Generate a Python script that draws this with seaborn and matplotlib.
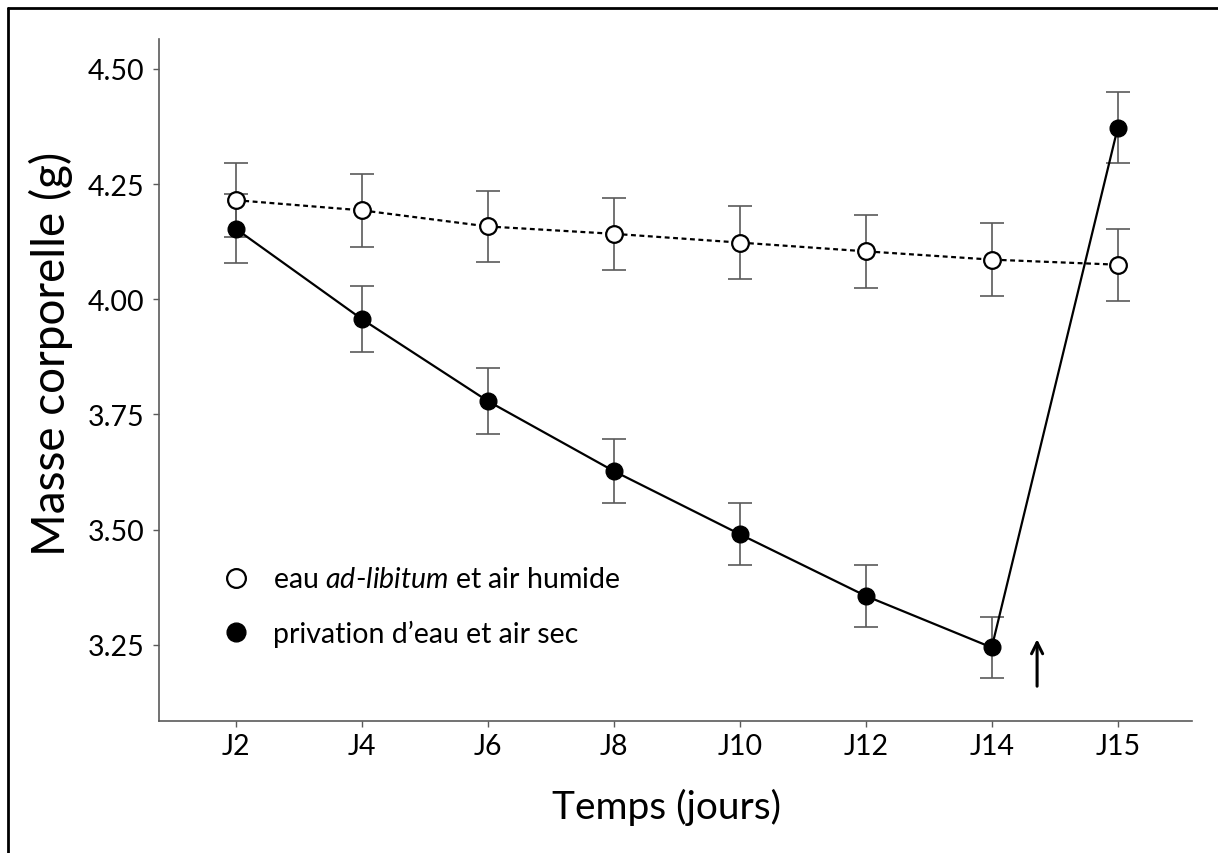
import numpy as np
import pandas as pd
import matplotlib
matplotlib.use("Agg")
import matplotlib.pyplot as plt
import seaborn as sns
from matplotlib.lines import Line2D

# ---- data ----
days = ["J2", "J4", "J6", "J8", "J10", "J12", "J14", "J15"]
humid_mean = [4.215, 4.193, 4.158, 4.142, 4.123, 4.104, 4.086, 4.075]
humid_err = [0.080, 0.079, 0.078, 0.078, 0.079, 0.079, 0.079, 0.078]
dry_mean = [4.153, 3.957, 3.779, 3.627, 3.490, 3.356, 3.244, 4.372]
dry_err = [0.075, 0.072, 0.072, 0.070, 0.067, 0.067, 0.066, 0.077]
y_ticks = [3.25, 3.50, 3.75, 4.00, 4.25, 4.50]
y_ticklabels = ["3.25", "3.50", "3.75", "4.00", "4.25", "4.50"]
label_humid = r"eau $ad$-$libitum$ et air humide"
label_dry = "privation d’eau et air sec"
xlabel = "Temps (jours)"
ylabel = "Masse corporelle (g)"
arrow_x = 6.36
arrow_y = (3.16, 3.262)

sns.set_theme(style="ticks")
plt.rcParams["font.family"] = ["Lato", "DejaVu Sans"]
plt.rcParams["mathtext.fontset"] = "custom"
plt.rcParams["mathtext.it"] = "Lato:italic"
plt.rcParams["mathtext.rm"] = "Lato"
plt.rcParams["text.color"] = "black"
plt.rcParams["axes.labelcolor"] = "black"
plt.rcParams["xtick.labelcolor"] = "black"
plt.rcParams["ytick.labelcolor"] = "black"

fig = plt.figure(figsize=(12.18, 8.54), dpi=100)
ax = fig.add_axes([0.1305, 0.1546, 0.8482, 0.7986])

pos = np.arange(len(days))
df = pd.DataFrame({
    "pos": np.concatenate([pos, pos]),
    "mass": humid_mean + dry_mean,
    "err": humid_err + dry_err,
    "group": ["humid"] * len(days) + ["dry"] * len(days),
})

err_color = "#5a5a5a"
for g in ["humid", "dry"]:
    sub = df[df.group == g]
    ax.errorbar(sub["pos"], sub["mass"], yerr=sub["err"], fmt="none",
                ecolor=err_color, elinewidth=1.2, capsize=8.6, capthick=1.2, zorder=2)

hum = df[df.group == "humid"]
dry = df[df.group == "dry"]
sns.lineplot(data=hum, x="pos", y="mass", ax=ax, color="black", linewidth=1.6,
             linestyle=(0, (2.2, 1.6)), marker="o", markersize=12,
             markerfacecolor="white", markeredgecolor="black", markeredgewidth=1.6,
             errorbar=None, zorder=3)
sns.lineplot(data=dry, x="pos", y="mass", ax=ax, color="black", linewidth=1.6,
             marker="o", markersize=12, markerfacecolor="black",
             markeredgecolor="black", markeredgewidth=1.0, errorbar=None, zorder=4)

ax.set_xlim(-0.61, 7.59)
ax.set_ylim(3.0845, 4.565)
ax.set_xticks(pos)
ax.set_xticklabels(days)
ax.set_yticks(y_ticks)
ax.set_yticklabels(y_ticklabels)
sns.despine(ax=ax)
for s in ["left", "bottom"]:
    ax.spines[s].set_color(err_color)
    ax.spines[s].set_linewidth(1.2)
ax.tick_params(length=4, width=1, color=err_color, labelsize=20.5, labelcolor="black")
ax.tick_params(axis="y", pad=6.5)
ax.tick_params(axis="x", pad=5)

ax.set_xlabel(xlabel, fontsize=28)
ax.set_ylabel(ylabel, fontsize=33)
ax.xaxis.set_label_coords(0.491, -0.098)
ax.yaxis.set_label_coords(-0.083, 0.54)

handles = [
    Line2D([], [], marker="o", ls="none", ms=13.5, mfc="white", mec="black", mew=1.6),
    Line2D([], [], marker="o", ls="none", ms=13.5, mfc="black", mec="black", mew=1.0),
]
ax.legend(handles, [label_humid, label_dry], loc="upper left",
          bbox_to_anchor=(0.0610, 0.2265), frameon=False, fontsize=20.5,
          handlelength=1.0, handletextpad=0.8, labelspacing=0.95,
          borderpad=0, borderaxespad=0)

ax.annotate("", xy=(arrow_x, arrow_y[1]), xytext=(arrow_x, arrow_y[0]),
            arrowprops=dict(arrowstyle="->", lw=2.2, color="black",
                            mutation_scale=20, shrinkA=0, shrinkB=0))

# figure frame (left and top edges)
fig.add_artist(Line2D([8 / 1218, 8 / 1218], [0, 1 - 9 / 854], transform=fig.transFigure,
                      color="black", lw=2))
fig.add_artist(Line2D([8 / 1218, 1], [1 - 9 / 854, 1 - 9 / 854], transform=fig.transFigure,
                      color="black", lw=2))

fig.savefig("out.png", dpi=100)
